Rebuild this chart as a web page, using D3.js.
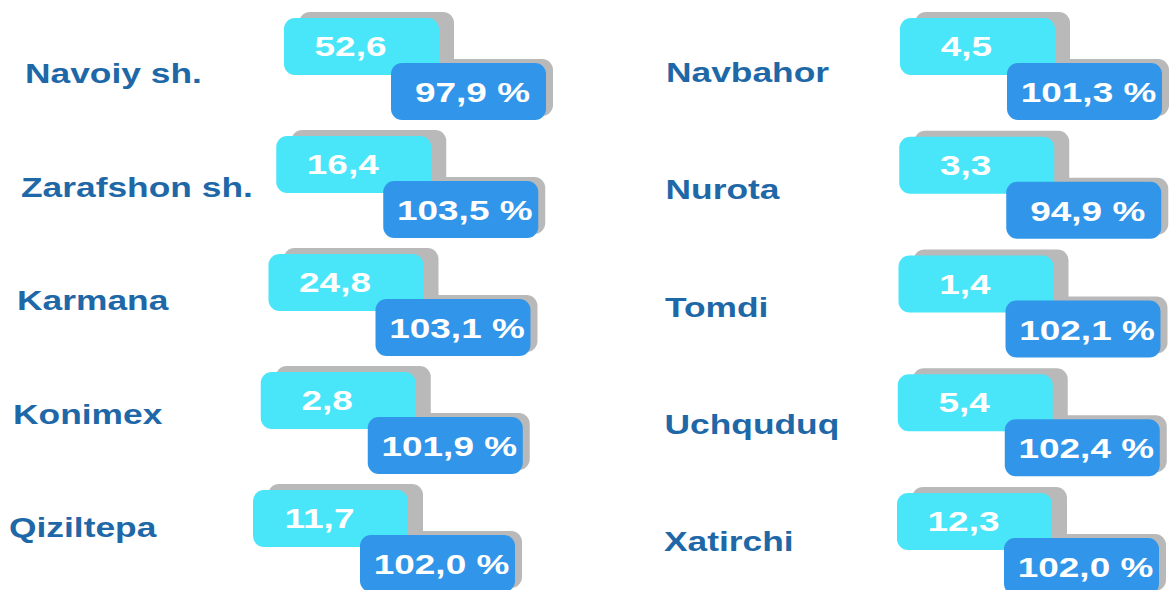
<!DOCTYPE html>
<html>
<head>
<meta charset="utf-8">
<script src="https://cdn.jsdelivr.net/npm/d3@7"></script>
<style>
  body { margin: 0; background: #fff; }
  text { font-family: "Liberation Sans", Arial, sans-serif; font-weight: bold; }
</style>
</head>
<body>
<div id="chart"></div>
<script>
const districts = ['Navoiy sh.', 'Zarafshon sh.', 'Karmana', 'Konimex', 'Qiziltepa',
  'Navbahor', 'Nurota', 'Tomdi', 'Uchquduq', 'Xatirchi']
const volumes = [52.6, 16.4, 24.8, 2.8, 11.7, 4.5, 3.3, 1.4, 5.4, 12.3]
const growth = [97.9, 103.5, 103.1, 101.9, 102.0, 101.3, 94.9, 102.1, 102.4, 102.0]

const width = 1175
const height = 590
const perCol = 5

const boxW = 155
const boxH = 57
const colors = { label: '#1f68a8', cyan: '#48e6f8', blue: '#3196ea', shade: '#b9b9b9' }

const locale = d3.formatLocale({ decimal: ',', thousands: ' ', grouping: [3], currency: ['', ''] })
const fmt = locale.format('.1f')

const svg = d3.select('#chart')
  .append('svg')
  .attr('width', width)
  .attr('height', height)

// each column has its own layout (the left one leans slightly)
const rows = d3.range(perCol)
const columns = [
  {
    box: d3.scaleLinear().domain([0, perCol - 1]).range([284, 253]),
    boxY: d3.scalePoint().domain(rows).range([18, 490]),
    label: d3.scaleLinear().domain([0, perCol - 1]).range([25, 9]),
    labelY: d3.scalePoint().domain(rows).range([83, 537]),
  },
  {
    box: d3.scaleLinear().domain([0, perCol - 1]).range([900, 897]),
    boxY: d3.scalePoint().domain(rows).range([18, 493]),
    label: d3.scaleLinear().domain([0, perCol - 1]).range([666, 664]),
    labelY: d3.scalePoint().domain(rows).range([82, 551]),
  },
]

const items = districts.map((name, i) => {
  const col = columns[Math.floor(i / perCol)]
  const row = i % perCol
  const x = col.box(row)
  const y = col.boxY(row)
  return { name, vol: volumes[i], pct: growth[i], x, y, lx: col.label(row), ly: col.labelY(row), bx: x + 107, by: y + 45 }
})

const g = svg.selectAll('g.item').data(items).join('g').attr('class', 'item')

// -- shadows
g.append('rect')
  .attr('x', d => d.x + 15).attr('y', d => d.y - 6)
  .attr('width', boxW).attr('height', boxH)
  .attr('rx', 11).attr('fill', colors.shade)
g.append('rect')
  .attr('x', d => d.bx + 7).attr('y', d => d.by - 4)
  .attr('width', boxW).attr('height', boxH)
  .attr('rx', 11).attr('fill', colors.shade)

// -- boxes
g.append('rect')
  .attr('x', d => d.x).attr('y', d => d.y)
  .attr('width', boxW).attr('height', boxH)
  .attr('rx', 11).attr('fill', colors.cyan)
g.append('rect')
  .attr('x', d => d.bx).attr('y', d => d.by)
  .attr('width', boxW).attr('height', boxH)
  .attr('rx', 11).attr('fill', colors.blue)

// -- values
g.append('text')
  .attr('transform', d => `translate(${d.x + boxW / 2 - 11},${d.y + 38}) scale(1.32,1)`)
  .attr('text-anchor', 'middle')
  .attr('font-size', 28)
  .attr('fill', '#fff')
  .text(d => fmt(d.vol))
g.append('text')
  .attr('transform', d => `translate(${d.bx + boxW / 2 + 4},${d.by + 39}) scale(1.32,1)`)
  .attr('text-anchor', 'middle')
  .attr('font-size', 28)
  .attr('fill', '#fff')
  .text(d => fmt(d.pct) + ' %')

// -- district names
g.append('text')
  .attr('transform', d => `translate(${d.lx},${d.ly}) scale(1.31,1)`)
  .attr('font-size', 27)
  .attr('fill', colors.label)
  .text(d => d.name)
</script>
</body>
</html>
